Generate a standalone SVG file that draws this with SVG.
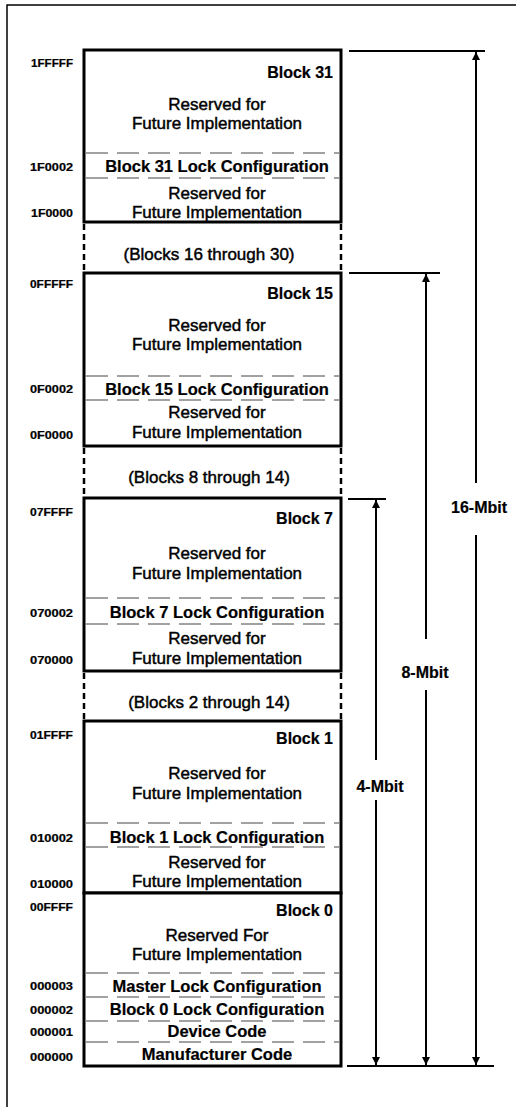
<svg xmlns="http://www.w3.org/2000/svg" width="516" height="1107" viewBox="0 0 516 1107">
<style>
text{font-family:"Liberation Sans",Arial,sans-serif;fill:#000}
.r{font-size:17px;text-anchor:middle;stroke:#000;stroke-width:0.45}
.b{font-size:16.5px;font-weight:bold;text-anchor:middle;stroke:#000;stroke-width:0.2}
.n{font-size:16px;font-weight:bold;text-anchor:end;stroke:#000;stroke-width:0.2}
.a{font-size:10px;font-weight:bold;text-anchor:end;stroke:#000;stroke-width:0.2}
.d{font-size:16px;font-weight:bold;text-anchor:middle;stroke:#000;stroke-width:0.2}
.blk{fill:#fff;stroke:#000;stroke-width:3}
.sep{stroke:#444;stroke-width:1;stroke-dasharray:22 9}
.gap{stroke:#000;stroke-width:2.5;stroke-dasharray:6 4}
.dim{stroke:#000;stroke-width:2;fill:none}
.tick{stroke:#000;stroke-width:2}
</style>
<defs>
<marker id="arr" viewBox="0 0 8 8" refX="8" refY="4" markerWidth="8" markerHeight="8" markerUnits="userSpaceOnUse" orient="auto">
<path d="M0,0 L8,4 L0,8 z" fill="#000"/>
</marker>
</defs>
<path d="M7,1107 V5 H516" fill="none" stroke="#000" stroke-width="1.5"/>

<g id="block31">
<rect class="blk" x="84" y="50" width="257" height="172"/>
<text class="n" x="333" y="78">Block 31</text>
<text class="r" x="217" y="110">Reserved for</text>
<text class="r" x="217" y="129">Future Implementation</text>
<line class="sep" x1="86" y1="153" x2="339" y2="153"/>
<text class="b" x="217" y="172">Block 31 Lock Configuration</text>
<line class="sep" x1="86" y1="178" x2="339" y2="178"/>
<text class="r" x="217" y="199">Reserved for</text>
<text class="r" x="217" y="218">Future Implementation</text>
<text class="a" x="73" y="67" textLength="42" lengthAdjust="spacingAndGlyphs">1FFFFF</text>
<text class="a" x="73" y="171" textLength="43" lengthAdjust="spacingAndGlyphs">1F0002</text>
<text class="a" x="73" y="217" textLength="42" lengthAdjust="spacingAndGlyphs">1F0000</text>
</g>

<g id="gap16-30">
<line class="gap" x1="84" y1="224" x2="84" y2="272"/>
<line class="gap" x1="341" y1="224" x2="341" y2="272"/>
<text class="r" x="209" y="260">(Blocks 16 through 30)</text>
</g>

<g id="block15">
<rect class="blk" x="84" y="273" width="257" height="173"/>
<text class="n" x="333" y="299">Block 15</text>
<text class="r" x="217" y="331">Reserved for</text>
<text class="r" x="217" y="350">Future Implementation</text>
<line class="sep" x1="86" y1="376" x2="339" y2="376"/>
<text class="b" x="217" y="395">Block 15 Lock Configuration</text>
<line class="sep" x1="86" y1="400" x2="339" y2="400"/>
<text class="r" x="217" y="418">Reserved for</text>
<text class="r" x="217" y="438">Future Implementation</text>
<text class="a" x="73" y="288" textLength="43" lengthAdjust="spacingAndGlyphs">0FFFFF</text>
<text class="a" x="73" y="393" textLength="43" lengthAdjust="spacingAndGlyphs">0F0002</text>
<text class="a" x="73" y="439" textLength="43" lengthAdjust="spacingAndGlyphs">0F0000</text>
</g>

<g id="gap8-14">
<line class="gap" x1="84" y1="448" x2="84" y2="497"/>
<line class="gap" x1="341" y1="448" x2="341" y2="497"/>
<text class="r" x="209" y="483">(Blocks 8 through 14)</text>
</g>

<g id="block7">
<rect class="blk" x="84" y="498" width="257" height="173"/>
<text class="n" x="333" y="524">Block 7</text>
<text class="r" x="217" y="559">Reserved for</text>
<text class="r" x="217" y="579">Future Implementation</text>
<line class="sep" x1="86" y1="598" x2="339" y2="598"/>
<text class="b" x="217" y="618">Block 7 Lock Configuration</text>
<line class="sep" x1="86" y1="624" x2="339" y2="624"/>
<text class="r" x="217" y="644">Reserved for</text>
<text class="r" x="217" y="664">Future Implementation</text>
<text class="a" x="73" y="516" textLength="43" lengthAdjust="spacingAndGlyphs">07FFFF</text>
<text class="a" x="73" y="617" textLength="43" lengthAdjust="spacingAndGlyphs">070002</text>
<text class="a" x="73" y="664" textLength="43" lengthAdjust="spacingAndGlyphs">070000</text>
</g>

<g id="gap2-14">
<line class="gap" x1="84" y1="673" x2="84" y2="720"/>
<line class="gap" x1="341" y1="673" x2="341" y2="720"/>
<text class="r" x="209" y="708">(Blocks 2 through 14)</text>
</g>

<g id="block1">
<rect class="blk" x="84" y="721" width="257" height="172"/>
<text class="n" x="333" y="744">Block 1</text>
<text class="r" x="217" y="779">Reserved for</text>
<text class="r" x="217" y="799">Future Implementation</text>
<line class="sep" x1="86" y1="823" x2="339" y2="823"/>
<text class="b" x="217" y="843">Block 1 Lock Configuration</text>
<line class="sep" x1="86" y1="847" x2="339" y2="847"/>
<text class="r" x="217" y="868">Reserved for</text>
<text class="r" x="217" y="887">Future Implementation</text>
<text class="a" x="73" y="739" textLength="43" lengthAdjust="spacingAndGlyphs">01FFFF</text>
<text class="a" x="73" y="842" textLength="43" lengthAdjust="spacingAndGlyphs">010002</text>
<text class="a" x="73" y="888" textLength="43" lengthAdjust="spacingAndGlyphs">010000</text>
</g>

<g id="block0">
<rect class="blk" x="84" y="893" width="257" height="173"/>
<text class="n" x="333" y="916">Block 0</text>
<text class="r" x="217" y="941">Reserved For</text>
<text class="r" x="217" y="960">Future Implementation</text>
<line class="sep" x1="86" y1="973" x2="339" y2="973"/>
<text class="b" x="217" y="992">Master Lock Configuration</text>
<line class="sep" x1="86" y1="997" x2="339" y2="997"/>
<text class="b" x="217" y="1015">Block 0 Lock Configuration</text>
<line class="sep" x1="86" y1="1021" x2="339" y2="1021"/>
<text class="b" x="217" y="1037">Device Code</text>
<line class="sep" x1="86" y1="1042" x2="339" y2="1042"/>
<text class="b" x="217" y="1060">Manufacturer Code</text>
<text class="a" x="73" y="911" textLength="43" lengthAdjust="spacingAndGlyphs">00FFFF</text>
<text class="a" x="73" y="990" textLength="43" lengthAdjust="spacingAndGlyphs">000003</text>
<text class="a" x="73" y="1014" textLength="43" lengthAdjust="spacingAndGlyphs">000002</text>
<text class="a" x="73" y="1036" textLength="43" lengthAdjust="spacingAndGlyphs">000001</text>
<text class="a" x="73" y="1061" textLength="43" lengthAdjust="spacingAndGlyphs">000000</text>
</g>

<g id="connectors">
<line class="tick" x1="349" y1="51" x2="485" y2="51"/>
<line class="tick" x1="349" y1="273" x2="440" y2="273"/>
<line class="tick" x1="348" y1="499" x2="386" y2="499"/>
<line class="tick" x1="347" y1="1066" x2="494" y2="1066"/>
<path class="dim" d="M476,483 V52" marker-end="url(#arr)"/>
<path class="dim" d="M476,535 V1065" marker-end="url(#arr)"/>
<path class="dim" d="M426,639 V274" marker-end="url(#arr)"/>
<path class="dim" d="M426,690 V1065" marker-end="url(#arr)"/>
<path class="dim" d="M376,760 V500" marker-end="url(#arr)"/>
<path class="dim" d="M376,800 V1065" marker-end="url(#arr)"/>
</g>

<g id="labels">
<text class="d" x="479" y="513">16-Mbit</text>
<text class="d" x="425" y="678">8-Mbit</text>
<text class="d" x="380" y="792">4-Mbit</text>
</g>
</svg>
